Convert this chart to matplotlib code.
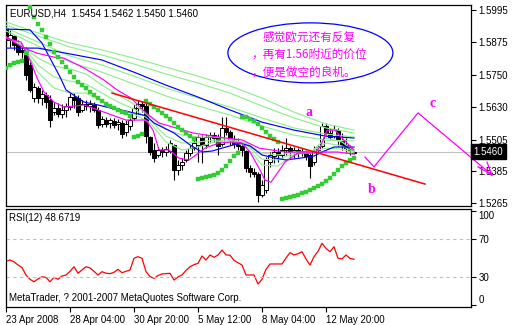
import matplotlib
matplotlib.use("Agg")
import matplotlib.pyplot as plt
from matplotlib.patches import Ellipse, Rectangle
import matplotlib.transforms as mtransforms

plt.rcParams['font.family'] = ['Liberation Sans', 'DejaVu Sans']

# ---------------- EURUSD H4 candles ----------------
opens = [1.5927, 1.5882, 1.5897, 1.5870, 1.5844, 1.5844, 1.5787, 1.5663, 1.5700, 1.5663,
         1.5674, 1.5655, 1.5610, 1.5625, 1.5602, 1.5617, 1.5629, 1.5666, 1.5663, 1.5617,
         1.5640, 1.5632, 1.5636, 1.5617, 1.5564, 1.5579, 1.5568, 1.5576, 1.5564, 1.5568,
         1.5534, 1.5557, 1.5587, 1.5625, 1.5640, 1.5632, 1.5515, 1.5466, 1.5447, 1.5466,
         1.5458, 1.5462, 1.5485, 1.5390, 1.5409, 1.5428, 1.5455, 1.5474, 1.5485, 1.5511,
         1.5485, 1.5515, 1.5523, 1.5515, 1.5489, 1.5549, 1.5534, 1.5507, 1.5489, 1.5481,
         1.5462, 1.5398, 1.5383, 1.5375, 1.5296, 1.5315, 1.5421, 1.5443, 1.5458, 1.5447,
         1.5466, 1.5474, 1.5458, 1.5466, 1.5455, 1.5462, 1.5447, 1.5421, 1.5466, 1.5481,
         1.5557, 1.5530, 1.5519, 1.5542, 1.5504, 1.5485, 1.5474, 1.5454]
highs = [1.5957, 1.5920, 1.5901, 1.5882, 1.5863, 1.5855, 1.5799, 1.5719, 1.5708, 1.5693,
         1.5685, 1.5674, 1.5647, 1.5644, 1.5640, 1.5644, 1.5681, 1.5681, 1.5674, 1.5655,
         1.5655, 1.5655, 1.5647, 1.5629, 1.5595, 1.5591, 1.5587, 1.5587, 1.5583, 1.5579,
         1.5579, 1.5587, 1.5640, 1.5655, 1.5651, 1.5644, 1.5519, 1.5492, 1.5477, 1.5477,
         1.5481, 1.5504, 1.5489, 1.5428, 1.5436, 1.5466, 1.5485, 1.5504, 1.5523, 1.5523,
         1.5526, 1.5534, 1.5534, 1.5526, 1.5591, 1.5591, 1.5542, 1.5523, 1.5511, 1.5492,
         1.5466, 1.5409, 1.5398, 1.5383, 1.5353, 1.5439, 1.5458, 1.5474, 1.5474, 1.5485,
         1.5511, 1.5481, 1.5477, 1.5474, 1.5474, 1.5466, 1.5455, 1.5481, 1.5485, 1.5568,
         1.5568, 1.5549, 1.5561, 1.5549, 1.5530, 1.5511, 1.5485, 1.5462]
lows = [1.5863, 1.5855, 1.5844, 1.5825, 1.5814, 1.5731, 1.5685, 1.5647, 1.5644, 1.5636,
        1.5625, 1.5553, 1.5598, 1.5591, 1.5587, 1.5591, 1.5617, 1.5625, 1.5595, 1.5610,
        1.5617, 1.5610, 1.5610, 1.5549, 1.5553, 1.5553, 1.5549, 1.5549, 1.5542, 1.5511,
        1.5519, 1.5542, 1.5579, 1.5602, 1.5610, 1.5492, 1.5447, 1.5421, 1.5439, 1.5439,
        1.5443, 1.5455, 1.5353, 1.5372, 1.5390, 1.5421, 1.5443, 1.5466, 1.5421, 1.5417,
        1.5474, 1.5496, 1.5496, 1.5447, 1.5481, 1.5523, 1.5485, 1.5474, 1.5466, 1.5443,
        1.5383, 1.5364, 1.5364, 1.5269, 1.5288, 1.5303, 1.5402, 1.5417, 1.5421, 1.5436,
        1.5447, 1.5436, 1.5436, 1.5439, 1.5443, 1.5428, 1.5360, 1.5409, 1.5458, 1.5474,
        1.5523, 1.5504, 1.5511, 1.5481, 1.5466, 1.5458, 1.5447, 1.5450]
closes = [1.5882, 1.5901, 1.5863, 1.5836, 1.5836, 1.5750, 1.5693, 1.5704, 1.5663, 1.5678,
          1.5647, 1.5579, 1.5625, 1.5602, 1.5617, 1.5632, 1.5666, 1.5655, 1.5610, 1.5640,
          1.5632, 1.5640, 1.5617, 1.5561, 1.5583, 1.5564, 1.5579, 1.5561, 1.5572, 1.5526,
          1.5564, 1.5579, 1.5625, 1.5640, 1.5632, 1.5519, 1.5458, 1.5436, 1.5466, 1.5458,
          1.5470, 1.5492, 1.5390, 1.5409, 1.5421, 1.5455, 1.5474, 1.5492, 1.5515, 1.5485,
          1.5515, 1.5523, 1.5511, 1.5481, 1.5549, 1.5534, 1.5504, 1.5489, 1.5481, 1.5466,
          1.5398, 1.5383, 1.5375, 1.5296, 1.5334, 1.5428, 1.5447, 1.5458, 1.5447, 1.5466,
          1.5474, 1.5458, 1.5466, 1.5455, 1.5462, 1.5443, 1.5405, 1.5466, 1.5477, 1.5557,
          1.5530, 1.5515, 1.5545, 1.5504, 1.5485, 1.5474, 1.5466, 1.5460]

# Parabolic SAR, one value per bar
sar = [1.5776, 1.5787, 1.5795, 1.5799, 1.5802, 1.5833, 1.6007, 1.5969, 1.5942, 1.5920,
       1.5893, 1.5867, 1.5836, 1.5818, 1.5799, 1.5780, 1.5761, 1.5742, 1.5723, 1.5712,
       1.5700, 1.5685, 1.5674, 1.5663, 1.5651, 1.5640, 1.5632, 1.5625, 1.5617, 1.5610,
       1.5606, 1.5595, 1.5515, 1.5519, 1.5526, 1.5651, 1.5640, 1.5629, 1.5617, 1.5606,
       1.5595, 1.5583, 1.5568, 1.5553, 1.5542, 1.5530, 1.5519, 1.5508, 1.5356, 1.5360,
       1.5364, 1.5368, 1.5372, 1.5379, 1.5390, 1.5405, 1.5424, 1.5443, 1.5455, 1.5591,
       1.5591, 1.5583, 1.5576, 1.5564, 1.5549, 1.5534, 1.5519, 1.5508, 1.5496, 1.5281,
       1.5285, 1.5288, 1.5292, 1.5296, 1.5303, 1.5307, 1.5315, 1.5322, 1.5330, 1.5338,
       1.5349, 1.5360, 1.5375, 1.5390, 1.5405, 1.5417, 1.5428, 1.5436]

# Moving-average ribbon: long-term group on a coarse bar grid
ma_long_bars = [0, 8, 16, 24, 32, 40, 48, 56, 64, 72, 80, 87]
green_long_1 = [1.5950, 1.5908, 1.5870, 1.5844, 1.5813, 1.5779, 1.5745, 1.5708, 1.5662, 1.5609, 1.5564, 1.5541]
green_long_2 = [1.5938, 1.5897, 1.5855, 1.5825, 1.5791, 1.5753, 1.5719, 1.5681, 1.5632, 1.5587, 1.5549, 1.5530]
green_long_3 = [1.5927, 1.5874, 1.5821, 1.5787, 1.5745, 1.5700, 1.5662, 1.5628, 1.5587, 1.5549, 1.5526, 1.5515]
green_long_4 = [1.5916, 1.5859, 1.5798, 1.5760, 1.5715, 1.5670, 1.5632, 1.5598, 1.5556, 1.5522, 1.5503, 1.5500]
blue_slow = [1.5851, 1.5851, 1.5829, 1.5806, 1.5760, 1.5711, 1.5666, 1.5617, 1.5571, 1.5541, 1.5518, 1.5511]

# Short-term group
ma_short_bars = [0, 4, 8, 12, 16, 20, 24, 28, 32, 36, 40, 44, 48, 52, 56, 60, 64, 68, 72, 76, 80, 84, 87]
green_short_1 = [1.5889, 1.5866, 1.5760, 1.5700, 1.5681, 1.5681, 1.5651, 1.5621, 1.5602, 1.5568, 1.5496, 1.5466,
                 1.5477, 1.5496, 1.5500, 1.5481, 1.5409, 1.5405, 1.5450, 1.5454, 1.5511, 1.5496, 1.5462]
green_short_2 = [1.5893, 1.5863, 1.5787, 1.5742, 1.5726, 1.5715, 1.5681, 1.5647, 1.5621, 1.5579, 1.5518, 1.5492,
                 1.5496, 1.5503, 1.5503, 1.5488, 1.5431, 1.5428, 1.5454, 1.5458, 1.5492, 1.5481, 1.5458]
green_short_3 = [1.5893, 1.5859, 1.5813, 1.5783, 1.5772, 1.5753, 1.5711, 1.5674, 1.5639, 1.5590, 1.5545, 1.5522,
                 1.5515, 1.5515, 1.5507, 1.5492, 1.5454, 1.5447, 1.5458, 1.5458, 1.5473, 1.5469, 1.5454]

blue_fast_bars = [0, 6, 9, 13.5, 15, 19.5, 23, 26, 30, 35, 37, 42, 46, 49, 51.5, 55, 58.5, 61, 64, 67,
                  70, 74, 77, 79, 82, 87]
blue_fast = [1.5923, 1.5920, 1.5870, 1.5742, 1.5693, 1.5647, 1.5636, 1.5625, 1.5613, 1.5595, 1.5568, 1.5530,
             1.5485, 1.5458, 1.5462, 1.5477, 1.5492, 1.5481, 1.5447, 1.5436, 1.5428, 1.5436, 1.5443, 1.5458,
             1.5477, 1.5477]

magenta_fast_bars = [0, 3.75, 6.25, 7.75, 9.5, 12, 14.5, 19.5, 24.5, 30, 35, 36.75, 38.25, 40.75, 43.25,
                     45.75, 47.5, 49.75, 53.25, 56.5, 59, 61, 63.25, 64.75, 66.25, 68, 69.75, 73, 77.25,
                     78.75, 80.25, 82.25, 84, 87]
magenta_fast = [1.5889, 1.5874, 1.5798, 1.5738, 1.5685, 1.5647, 1.5628, 1.5636, 1.5609, 1.5579, 1.5579,
                1.5541, 1.5466, 1.5466, 1.5435, 1.5428, 1.5447, 1.5473, 1.5492, 1.5496, 1.5492, 1.5458,
                1.5397, 1.5352, 1.5344, 1.5382, 1.5420, 1.5454, 1.5454, 1.5484, 1.5541, 1.5541, 1.5511,
                1.5466]

magenta_slow_bars = [0, 4.5, 7.75, 12, 14.5, 19.5, 24.5, 27.75, 31.25, 35, 38.25, 42.5, 46.75, 54.75, 59,
                     63.25, 69.75, 76.25, 83, 87]
magenta_slow = [1.5893, 1.5851, 1.5832, 1.5817, 1.5813, 1.5776, 1.5730, 1.5693, 1.5662, 1.5606, 1.5568,
                1.5549, 1.5530, 1.5511, 1.5504, 1.5473, 1.5458, 1.5458, 1.5458, 1.5450]

# Hand-drawn objects
trend_bars = [26.5, 104.75]
trend_prices = [1.5681, 1.5337]
wave_bars = [89.75, 92, 103, 121.5]
wave_prices = [1.5439, 1.5402, 1.5606, 1.5371]
wave_labels = ['a', 'b', 'c']
wave_label_bars = [75.75, 91.5, 106.75]
wave_label_prices = [1.5609, 1.5318, 1.5643]
note_lines = ['感觉欧元还有反复', '，再有1.56附近的价位', '，便是做空的良机。']
last_price = 1.5460

# RSI(12)
rsi = [46.5, 47.9, 46.0, 42.6, 40.0, 32.0, 27.6, 25.0, 28.0, 30.3,
       29.5, 25.0, 29.6, 27.6, 31.0, 32.1, 36.0, 40.8, 33.9, 37.5,
       40.8, 39.5, 36.0, 32.1, 35.6, 34.0, 33.5, 35.0, 38.1, 34.5,
       36.0, 37.4, 49.7, 51.4, 49.7, 35.6, 30.5, 28.6, 31.5, 33.2,
       33.5, 33.9, 26.8, 30.0, 32.1, 37.0, 40.8, 43.0, 44.4, 52.1,
       47.9, 53.2, 50.7, 53.2, 58.4, 53.2, 53.0, 47.5, 45.0, 42.6,
       32.1, 32.1, 32.1, 22.6, 27.6, 38.0, 43.7, 43.7, 43.7, 43.7,
       50.0, 55.6, 53.2, 54.5, 56.6, 49.0, 42.6, 51.4, 57.0, 65.5,
       60.0, 56.6, 61.9, 49.7, 49.0, 53.2, 49.5, 48.67]

price_ticks = [1.5995, 1.5875, 1.5750, 1.5630, 1.5505, 1.5385, 1.5265]
date_tick_bars = [0, 16, 32, 48, 64, 80]
date_labels = ['23 Apr 2008', '28 Apr 04:00', '30 Apr 20:00', '5 May 12:00', '8 May 04:00', '12 May 20:00']

# ---------------- figure layout ----------------
W, H = 513, 325
fig = plt.figure(figsize=(W / 100, H / 100), dpi=100)


def px_rect(left, top, right, bottom):
    return [left / W, 1 - bottom / H, (right - left) / W, (bottom - top) / H]


ax = fig.add_axes(px_rect(6, 5, 471, 206))
rx = fig.add_axes(px_rect(6, 209, 471, 307))

XMAX = 116.25
for a in (ax, rx):
    a.set_xlim(0, XMAX)
    for s in a.spines.values():
        s.set_linewidth(0.9)
        s.set_color('black')

ax.set_ylim(1.5254, 1.6014)

# current price line
ax.axhline(last_price, color='#c0c0c0', lw=0.8, zorder=1)

# candles
for i, (o, h, l, c) in enumerate(zip(opens, highs, lows, closes)):
    ax.vlines(i, l, h, color='black', lw=0.8, zorder=2)
    lo, hi = min(o, c), max(o, c)
    face = 'white' if c >= o else 'black'
    ax.add_patch(Rectangle((i - 0.38, lo), 0.76, max(hi - lo, 0.00006),
                           facecolor=face, edgecolor='black', lw=0.7, zorder=3))

# ribbon
lw = 0.85
for ys in (green_long_1, green_long_2, green_long_3, green_long_4):
    ax.plot(ma_long_bars, ys, color='#90ee90', lw=lw, zorder=4)
for ys in (green_short_1, green_short_2, green_short_3):
    ax.plot(ma_short_bars, ys, color='#90ee90', lw=lw, zorder=4)
ax.plot(ma_long_bars, blue_slow, color='#0000ff', lw=lw, zorder=5)
ax.plot(blue_fast_bars, blue_fast, color='#0000ff', lw=lw, zorder=5)
ax.plot(magenta_slow_bars, magenta_slow, color='#ff00ff', lw=lw, zorder=5)
ax.plot(magenta_fast_bars, magenta_fast, color='#ff00ff', lw=lw, zorder=5)

# parabolic SAR
ax.plot(range(len(sar)), sar, ls='none', marker='s', ms=2.2, mew=0.3,
        mec='#32cd32', mfc='#32cd32', zorder=6)

# trend line and projected wave path
ax.plot(trend_bars, trend_prices, color='#ff0000', lw=1.1, zorder=6)
ax.plot(wave_bars, wave_prices, color='#ff00ff', lw=0.9, zorder=7, clip_on=False)
tip_b, tip_p = wave_bars[-1], wave_prices[-1]
ax.plot([118.0, tip_b], [1.5402, tip_p], color='#ff00ff', lw=0.9, zorder=7, clip_on=False)
ax.plot([120.25, tip_b], [1.5420, tip_p], color='#ff00ff', lw=0.9, zorder=7, clip_on=False)
for lab, xb, yp in zip(wave_labels, wave_label_bars, wave_label_prices):
    ax.text(xb, yp, lab, color='#ff00ff', fontsize=10, fontweight='bold',
            family='Liberation Serif', ha='center', va='center', zorder=8)

# comment bubble
ax.add_patch(Ellipse((76.1, 1.5833), 41.25, 0.02268, fill=False, edgecolor='#0000ff', lw=0.9, zorder=8))
note_x = [64.25, 61.25, 61.25]
note_y = [1.5893, 1.5829, 1.5761]
for txt, xb, yp in zip(note_lines, note_x, note_y):
    ax.text(xb, yp, txt, color='#ff00ff', fontsize=8.4, ha='left', va='center',
            family=['Noto Sans CJK SC', 'DejaVu Sans'], zorder=9)

# axes ticks
ax.set_xticks([])
ax.yaxis.tick_right()
ax.set_yticks(price_ticks)
ax.set_yticklabels([f'{v:.4f}' for v in price_ticks])
ax.tick_params(axis='y', length=3.5, width=0.8, pad=2, labelsize=7, colors='black')

trans = mtransforms.blended_transform_factory(ax.transAxes, ax.transData)
ax.text(1.006, last_price, f'{last_price:.4f}', transform=trans, color='white', fontsize=7,
        ha='left', va='center', zorder=10,
        bbox=dict(boxstyle='square,pad=0.25', fc='black', ec='black'))

fig.text(10 / W, 1 - 8 / H, 'EURUSD,H4  1.5454 1.5462 1.5450 1.5460', fontsize=7,
         ha='left', va='top', color='black')

# ---------------- RSI panel ----------------
rx.set_ylim(-1.6, 101.6)
rx.plot(range(len(rsi)), rsi, color='#ff0000', lw=0.9)
for lvl in (70, 30):
    rx.axhline(lvl, color='#c0c0c0', lw=0.8, ls=(0, (3, 3)))
rx.yaxis.tick_right()
rx.set_yticks([100, 70, 30, 0])
rx.set_yticklabels(['100', '70', '30', '0'])
rx.tick_params(axis='y', length=3.5, width=0.8, pad=2, labelsize=7)
labs = rx.get_yticklabels()
labs[0].set_va('top')
labs[3].set_va('bottom')
rx.set_xticks(date_tick_bars)
rx.set_xticklabels(date_labels, ha='left')
rx.tick_params(axis='x', length=3.5, width=0.8, pad=2, labelsize=7)

fig.text(9 / W, 1 - 213 / H, 'RSI(12) 48.6719', fontsize=7, ha='left', va='top')
fig.text(9 / W, 1 - 293 / H, 'MetaTrader, ? 2001-2007 MetaQuotes Software Corp.', fontsize=7,
         ha='left', va='top')

fig.savefig('out.png', dpi=100)
